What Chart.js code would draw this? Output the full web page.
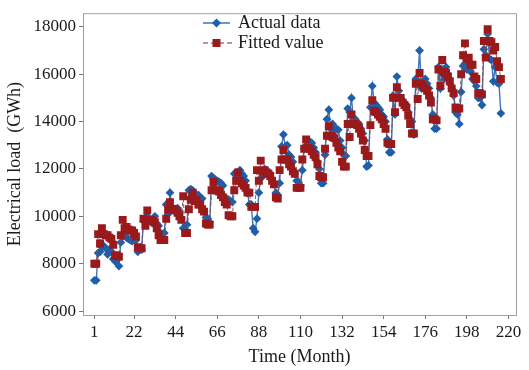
<!DOCTYPE html>
<html>
<head>
<meta charset="utf-8">
<script src="https://cdn.jsdelivr.net/npm/chart.js@4/dist/chart.umd.min.js"></script>
<style>
  html, body { margin: 0; padding: 0; background: #fff; }
  #wrap { width: 529px; height: 370px; }
</style>
</head>
<body>
<div id="wrap"><canvas id="chart" width="529" height="370"></canvas></div>
<script>
// one row per year (12 months)
const actualLoad = [
  7300, 7300, 8450, 8500, 8700, 8750, 8650, 8400, 8600, 8500, 8200, 8100,
  8150, 7900, 8900, 9150, 9250, 9100, 9050, 9000, 8950, 9100, 9000, 8500,
  8600, 8600, 9800, 9950, 10000, 9900, 9750, 9700, 10000, 9700, 9600, 9300,
  9250, 9300, 10500, 10100, 11000, 10400, 10300, 10300, 10350, 10200, 9900, 9500,
  9450, 9650, 11100, 11150, 11100, 10950, 10900, 10900, 10800, 10750, 10200, 9950,
  9900, 9750, 11700, 11600, 11550, 11500, 11450, 11400, 11300, 10800, 10750, 10700,
  10650, 10600, 11800, 11850, 11750, 11950, 11800, 11700, 11500, 11000, 10500, 10500,
  9500, 9350, 9900, 11000, 11600, 11700, 12000, 11950, 11900, 11800, 11500, 11350,
  11000, 10900, 11400, 12950, 13450, 12950, 13000, 12600, 12500, 12300, 11800, 11500,
  11450, 11300, 11950, 12850, 13000, 13200, 13150, 13100, 12900, 12700, 12300, 12000,
  11400, 11400, 12600, 14100, 14500, 13700, 13900, 13650, 13700, 13650, 13200, 12900,
  12600, 12550, 14550, 14400, 15000, 14100, 14100, 13900, 13900, 13700, 13500, 13200,
  12100, 12150, 14600, 15500, 14800, 14700, 14600, 14500, 14300, 14200, 14000, 13250,
  12700, 12700, 15100, 14300, 15900, 15300, 15000, 14900, 14800, 14700, 14400, 14100,
  14000, 13450, 15800, 15700, 17000, 15400, 15700, 15800, 15600, 15400, 15000, 14300,
  13700, 13700, 16300, 15400, 16000, 15800, 16300, 16000, 15600, 15400, 15100, 14400,
  14300, 13900, 15250, 16350, 16450, 16200, 16200, 16100, 15800, 15700, 15500, 15000,
  15000, 14700, 17050, 16800, 17700, 16650, 16600, 15700, 16300, 15650, 15600, 14350
];

const fittedLoad = [
  8000, 8000, 9250, 8850, 9500, 9250, 9200, 9200, 9100, 9050, 8800, 8350,
  8350, 8300, 9200, 9850, 9500, 9550, 9450, 9400, 9400, 9300, 9150, 8700,
  8650, 8650, 9900, 9600, 10250, 9850, 9850, 9800, 9750, 9500, 9200, 9000,
  9000, 9000, 9900, 10300, 10600, 10300, 10300, 10250, 10150, 10000, 9850, 10850,
  9300, 9300, 10300, 10700, 11000, 10650, 10700, 10500, 10500, 10300, 10200, 9700,
  9650, 9650, 11100, 11450, 11100, 11100, 11050, 10900, 10800, 10600, 10500, 10050,
  10000, 10000, 11100, 11500, 11850, 11500, 11400, 11300, 11200, 11000, 11000, 10400,
  10400, 10400, 11950, 11500, 12350, 11900, 11950, 11800, 11800, 11700, 11500, 11350,
  10800, 10750, 11950, 12400, 12800, 12400, 12400, 12200, 12100, 11900, 11800, 11200,
  11200, 11200, 12400, 12850, 13250, 12900, 12850, 12750, 12600, 12500, 12200, 11700,
  11650, 11650, 12850, 13400, 13800, 13400, 13350, 13300, 13100, 12900, 12750, 12300,
  12100, 12100, 13900, 13350, 14300, 13900, 13900, 13850, 13700, 13500, 13200, 12800,
  12550, 12550, 13850, 14900, 14450, 14400, 14300, 14200, 14100, 13900, 13700, 13100,
  13050, 13050, 15000, 14400, 15450, 15000, 15000, 14800, 14700, 14600, 14250, 13900,
  13500, 13500, 15600, 14950, 16050, 15600, 15500, 15400, 15300, 15100, 14800, 14100,
  14100, 14050, 16200, 15500, 16600, 16100, 16050, 15900, 15700, 15400, 15200, 14600,
  14550, 14550, 16000, 16800, 17300, 16650, 16700, 16400, 16400, 15900, 15800, 15200,
  15200, 15150, 17400, 16700, 17900, 17400, 17350, 17000, 17150, 16550, 16300, 15800
];

const monthTicks = [1, 22, 44, 66, 88, 110, 132, 154, 176, 198, 220];
const loadTicks = [6000, 8000, 10000, 12000, 14000, 16000, 18000];
const seriesNames = ['Actual data', 'Fitted value'];

const months = actualLoad.map((v, i) => i + 1);

const blue = '#1f5ea8';
const blueLine = '#3f74b8';
const red = '#9a1a1c';
const serif = "'Liberation Serif', 'Times New Roman', serif";

// box round the plot and the legend in the upper middle
const framePlugin = {
  id: 'frame',
  afterDraw(chart) {
    const { ctx, chartArea: a } = chart;
    ctx.save();
    ctx.strokeStyle = '#a0a0a0';
    ctx.lineWidth = 1;
    ctx.strokeRect(a.left + 0.5, a.top + 0.5, a.right - a.left, a.bottom - a.top);

    ctx.font = '18px ' + serif;
    ctx.textBaseline = 'middle';

    // actual
    ctx.strokeStyle = blueLine;
    ctx.lineWidth = 1.5;
    ctx.beginPath();
    ctx.moveTo(203, 23);
    ctx.lineTo(230, 23);
    ctx.stroke();
    ctx.fillStyle = blue;
    ctx.beginPath();
    ctx.moveTo(216.5, 18.5);
    ctx.lineTo(221, 23);
    ctx.lineTo(216.5, 27.5);
    ctx.lineTo(212, 23);
    ctx.closePath();
    ctx.fill();

    // fitted
    ctx.strokeStyle = red;
    ctx.lineWidth = 1;
    ctx.setLineDash([5, 3]);
    ctx.beginPath();
    ctx.moveTo(203, 43);
    ctx.lineTo(232, 43);
    ctx.stroke();
    ctx.setLineDash([]);
    ctx.fillStyle = red;
    ctx.fillRect(212.5, 39, 8, 8);

    ctx.fillStyle = '#1a1a1a';
    ctx.fillText(seriesNames[0], 238, 23);
    ctx.fillText(seriesNames[1], 238, 43);
    ctx.restore();
  }
};

new Chart(document.getElementById('chart'), {
  type: 'line',
  data: {
    datasets: [
      {
        label: seriesNames[0],
        data: months.map((m, i) => ({ x: m, y: actualLoad[i] })),
        borderColor: blueLine,
        backgroundColor: blue,
        borderWidth: 1.4,
        pointStyle: 'rectRot',
        pointRadius: 4.4,
        pointBorderWidth: 0,
        tension: 0,
        order: 1
      },
      {
        label: seriesNames[1],
        data: months.map((m, i) => ({ x: m, y: fittedLoad[i] })),
        borderColor: '#8a4a4a',
        backgroundColor: red,
        borderWidth: 0.9,
        borderDash: [4, 2],
        pointStyle: 'rect',
        pointRadius: 5.6,
        pointBorderWidth: 0,
        tension: 0,
        order: 0
      }
    ]
  },
  options: {
    responsive: false,
    animation: false,
    layout: { padding: { top: 5, right: 13, left: 0, bottom: 0 } },
    plugins: {
      legend: { display: false },
      tooltip: { enabled: false }
    },
    scales: {
      x: {
        type: 'linear',
        min: -5,
        max: 224,
        afterBuildTicks: (scale) => { scale.ticks = monthTicks.map(v => ({ value: v })); },
        afterFit: (scale) => { scale.height = 55; },
        ticks: {
          autoSkip: false,
          maxRotation: 0,
          color: '#1a1a1a',
          padding: 3,
          font: { family: serif, size: 17 },
          callback: (v) => String(v)
        },
        grid: { drawOnChartArea: false, tickLength: 4, color: '#777' },
        border: { color: '#a0a0a0' },
        title: {
          display: true,
          text: 'Time (Month)',
          color: '#1a1a1a',
          padding: { top: 0, bottom: 2 },
          font: { family: serif, size: 18 }
        }
      },
      y: {
        min: 5835,
        max: 18575,
        afterBuildTicks: (scale) => { scale.ticks = loadTicks.map(v => ({ value: v })); },
        afterFit: (scale) => { scale.width = 83; },
        ticks: {
          color: '#1a1a1a',
          padding: 3,
          font: { family: serif, size: 17 },
          callback: (v) => String(v)
        },
        grid: { drawOnChartArea: false, tickLength: 4, color: '#777' },
        border: { color: '#a0a0a0' },
        title: {
          display: true,
          text: 'Electrical load  (GWh)',
          color: '#1a1a1a',
          padding: { top: 4, bottom: 0 },
          font: { family: serif, size: 18 }
        }
      }
    }
  },
  plugins: [framePlugin]
});
</script>
</body>
</html>
